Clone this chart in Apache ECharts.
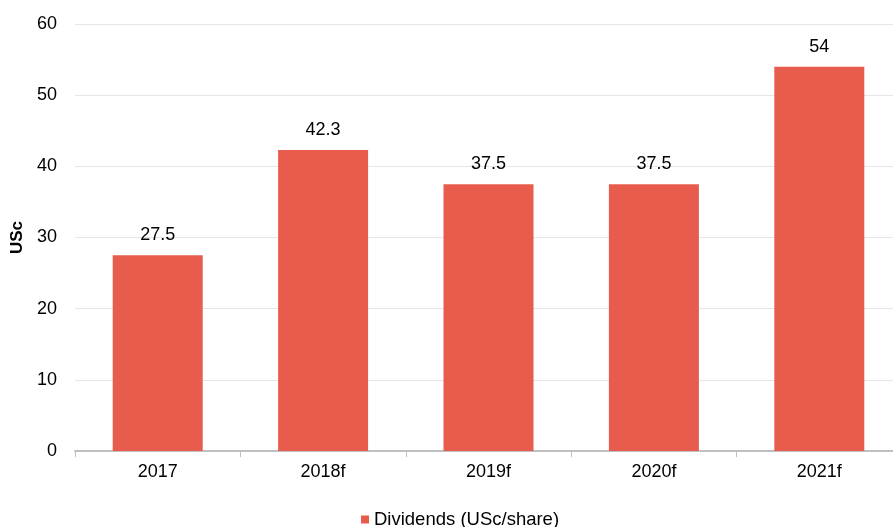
<!DOCTYPE html>
<html><head><meta charset="utf-8">
<script src="https://cdn.jsdelivr.net/npm/echarts@6/dist/echarts.min.js"></script>
<style>html,body{margin:0;padding:0;background:#fff}#c{width:893px;height:527px}</style>
</head><body><div id="c"></div>
<script>
const categories = ['2017', '2018f', '2019f', '2020f', '2021f'];
const dividends = [27.5, 42.3, 37.5, 37.5, 54];
const seriesName = 'Dividends (USc/share)';
const yTicks = {min: 0, max: 60, interval: 10};

const chart = echarts.init(document.getElementById('c'));
chart.setOption({
  animation: false,
  textStyle: {fontFamily: 'Liberation Sans, Arial, sans-serif'},
  grid: {left: 75, top: 24, width: 827, height: 427, containLabel: false, outerBoundsMode: 'none'},
  legend: {
    top: 505, left: 356, itemWidth: 8, itemHeight: 8, itemGap: 4,
    icon: 'rect',
    textStyle: {fontSize: 18.5, color: '#000', fontFamily: 'Liberation Sans, Arial, sans-serif'},
    data: [seriesName]
  },
  xAxis: {
    type: 'category', data: categories,
    axisLine: {lineStyle: {color: '#bfbfbf', width: 2}},
    axisTick: {show: true, alignWithLabel: false, length: 6, lineStyle: {color: '#bfbfbf'}},
    axisLabel: {fontSize: 18, color: '#000', margin: 12}
  },
  yAxis: {
    type: 'value', min: yTicks.min, max: yTicks.max, interval: yTicks.interval,
    name: 'USc', nameLocation: 'middle', nameGap: 46, nameRotate: 90,
    nameTextStyle: {fontSize: 17, fontWeight: 'bold', color: '#000'},
    axisLine: {show: false}, axisTick: {show: false},
    axisLabel: {fontSize: 18, color: '#000', margin: 18},
    splitLine: {lineStyle: {color: '#e6e6e6'}}
  },
  series: [{
    name: seriesName, type: 'bar', data: dividends, barWidth: 90,
    itemStyle: {color: '#E85C4D'},
    label: {show: true, position: 'top', distance: 11, fontSize: 18, color: '#000'}
  }]
});
</script></body></html>
